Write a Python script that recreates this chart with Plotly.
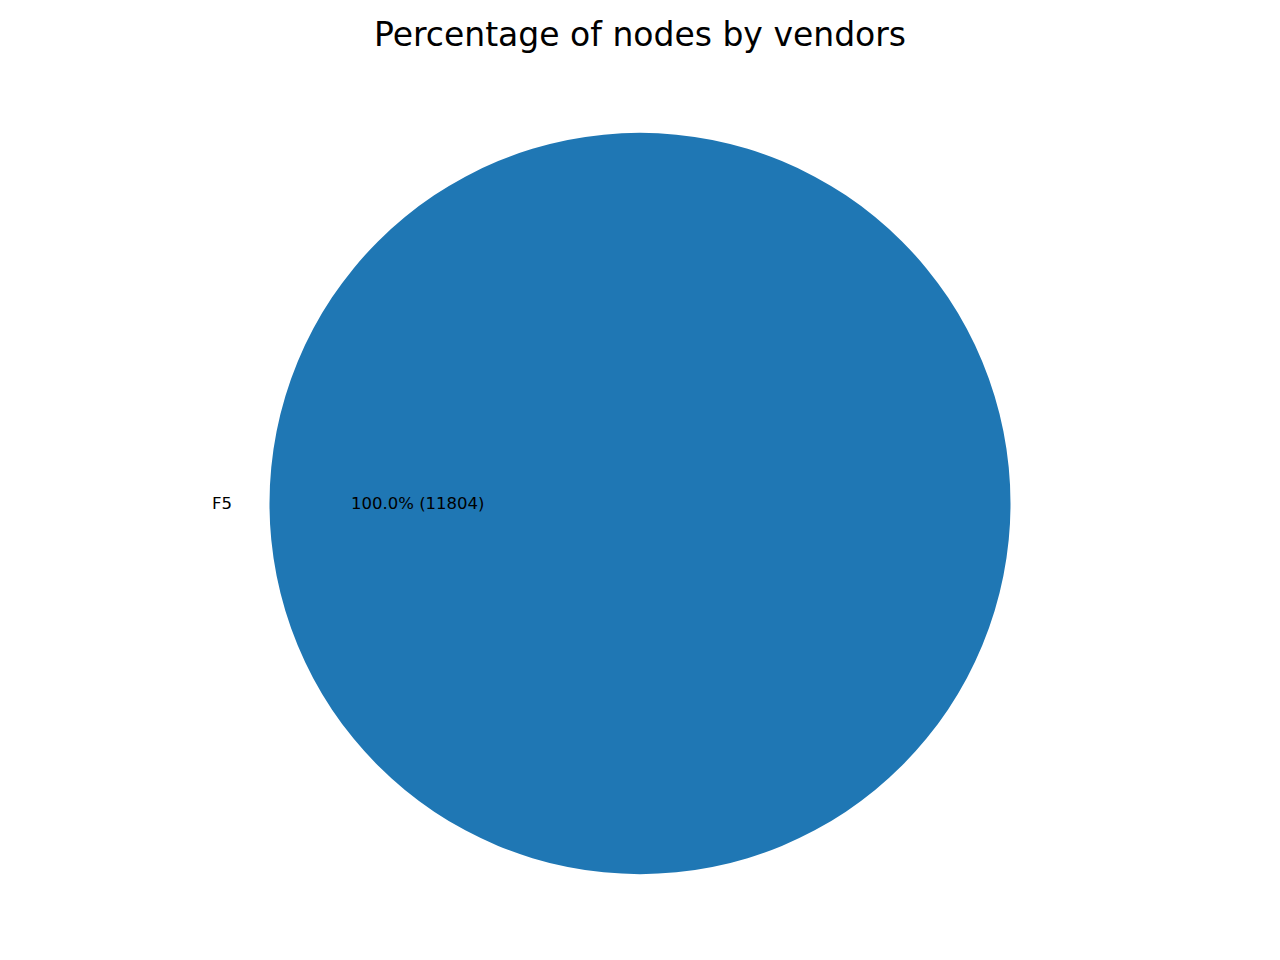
import math
import plotly.graph_objects as go

labels = ["F5"]
counts = [11804]
colors = ["#1f77b4"]

W, H = 1280, 960
cx, cy, R = 640.0, 503.5, 370.5
m_top = cy - R
m_bot = H - (cy + R)

fig = go.Figure(go.Pie(
    labels=labels, values=counts, marker=dict(colors=colors, line=dict(width=0)),
    textinfo="none", sort=False, direction="counterclockwise", rotation=90,
    hoverinfo="label+percent+value", showlegend=False,
))

total = sum(counts)
start = 0.0
annotations = []
LBL = 16.5
for lab, v in zip(labels, counts):
    frac = v / total
    mid = math.radians(start + 360 * frac / 2)
    start += 360 * frac
    lx = cx + 1.1 * R * math.cos(mid)
    ly = cy - 1.1 * R * math.sin(mid)
    annotations.append(dict(
        text=lab, x=(lx + 2) / W, y=(H - m_bot - ly) / (H - m_top - m_bot), xref="paper", yref="paper",
        xanchor="right" if math.cos(mid) < 0 else "left", yanchor="middle", showarrow=False,
        font=dict(family="DejaVu Sans", size=LBL, color="black")))
    px = cx + 0.6 * R * math.cos(mid)
    py = cy - 0.6 * R * math.sin(mid)
    annotations.append(dict(
        text=f"{frac*100:.1f}% ({v})", x=px / W, y=(H - m_bot - py) / (H - m_top - m_bot),
        xref="paper", yref="paper", xanchor="center", yanchor="middle", showarrow=False,
        font=dict(family="DejaVu Sans", size=LBL, color="black")))

fig.update_layout(
    width=W, height=H,
    margin=dict(l=0, r=0, t=m_top, b=m_bot, autoexpand=False),
    paper_bgcolor="white", plot_bgcolor="white",
    title=dict(text="Percentage of nodes by vendors", x=0.5, xanchor="center",
               y=1 - 34 / H, yanchor="middle", yref="container",
               font=dict(family="DejaVu Sans", size=33, color="black")),
    annotations=annotations,
)
fig.write_html("out.html", config={"displayModeBar": False})

with open("out.html", "r", encoding="utf-8") as f:
    html = f.read()
html = html.replace("<body>", '<body style="margin:0;padding:0;overflow:hidden">', 1)
with open("out.html", "w", encoding="utf-8") as f:
    f.write(html)
